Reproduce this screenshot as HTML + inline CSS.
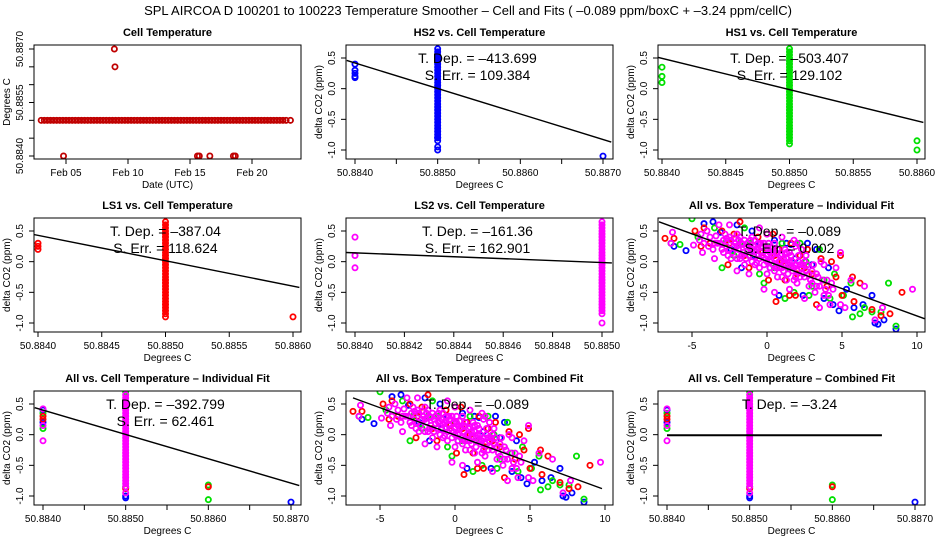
<!DOCTYPE html>
<html><head><meta charset="utf-8"><style>
html,body{margin:0;padding:0;background:#fff}
svg{display:block;font-family:"Liberation Sans",sans-serif}
</style></head><body>
<svg id="chart" width="936" height="540" viewBox="0 0 936 540" xmlns="http://www.w3.org/2000/svg">
<text x="468" y="15" text-anchor="middle" font-size="13">SPL   AIRCOA D   100201 to 100223   Temperature Smoother – Cell and Fits ( –0.089  ppm/boxC +  –3.24  ppm/cellC)</text>
</svg>
<script>
// ---------- data ----------
const cellBaseDays = [3,3.25,3.5,3.75,4,4.25,4.5,4.75,5,5.25,5.5,5.75,6,6.25,6.5,6.75,7,7.25,7.5,7.75,8,8.25,8.5,8.75,9,9.25,9.5,9.75,10,10.25,10.5,10.75,11,11.25,11.5,11.75,12,12.25,12.5,12.75,13,13.25,13.5,13.75,14,14.25,14.5,14.75,15,15.25,15.5,15.75,16,16.25,16.5,16.75,17,17.25,17.5,17.75,18,18.25,18.5,18.75,19,19.25,19.5,19.75,20,20.25,20.5,20.75,21,21.25,21.5,21.75,22,22.25,22.5,22.75,23.1];
const cellBaseTemp = 50.885;
const cellOutlierDays = [4.8,8.9,8.95,15.6,15.75,16.6,18.5,18.65];
const cellOutlierTemps = [50.884,50.887,50.8865,50.884,50.884,50.884,50.884,50.884];

const columnY = [-0.85,-0.8,-0.75,-0.7,-0.65,-0.6,-0.55,-0.5,-0.45,-0.4,-0.35,-0.3,-0.25,-0.2,-0.15,-0.1,-0.05,0,0.05,0.1,0.15,0.2,0.25,0.3,0.35,0.4,0.45,0.5,0.55,0.6,0.65];

const hs2Points = [[50.884,0.4],[50.884,0.3],[50.884,0.25],[50.884,0.2],[50.884,0.18],[50.885,-0.95],[50.885,-1.0],[50.885,-0.8],[50.887,-1.1]];
const hs1Points = [[50.884,0.35],[50.884,0.2],[50.884,0.1],[50.885,-0.9],[50.886,-0.85],[50.886,-1.0]];
const ls1Points = [[50.884,0.3],[50.884,0.25],[50.884,0.2],[50.885,-0.9],[50.886,-0.9]];
const ls2Points = [[50.884,0.4],[50.884,0.1],[50.884,-0.1],[50.885,-1.0]];

const allCellMagenta = [[50.884,0.42],[50.884,0.15],[50.884,-0.1],[50.885,-0.95]];
const allCellGreen = [[50.884,0.35],[50.884,0.1],[50.885,0.7],[50.885,-0.85],[50.886,-0.82],[50.886,-1.06]];
const allCellRed = [[50.884,0.3],[50.884,0.25],[50.885,-0.88],[50.886,-0.85]];
const allCellBlue = [[50.884,0.4],[50.884,0.2],[50.885,-1.0],[50.885,-1.03],[50.887,-1.1]];

const boxMagenta = [[-6.3,0.48],[-6.4,0.3],[-4.9,0.27],[-4.5,0.35],[-4.3,0.15],[-4,0.5],[-3.8,0.4],[-3.5,0.3],[-3.2,0.6],[-3,0.2],[-2.8,0.45],[-2.6,0.1],[-2.4,0.35],[-2.2,0.25],[-2,0.05],[-1.8,0.4],[-1.6,0.15],[-1.5,-0.05],[-1.3,0.3],[-1.1,0.2],[-1,0],[-0.8,0.35],[-0.6,0.1],[-0.5,-0.1],[-0.3,0.25],[-0.1,0.05],[0,-0.2],[0.2,0.15],[0.4,-0.05],[0.5,0.3],[0.7,-0.25],[0.9,0.1],[1,-0.1],[1.2,0.2],[1.3,-0.3],[1.5,0],[1.7,-0.15],[1.9,0.25],[2,-0.35],[2.2,-0.05],[2.4,-0.2],[2.6,0.1],[2.8,-0.4],[3,-0.15],[3.2,-0.5],[3.4,-0.25],[3.6,0],[3.8,-0.55],[4,-0.3],[4.2,-0.7],[4.4,-0.45],[4.6,-0.1],[4.9,0.15],[4.9,-0.7],[5.2,-0.75],[5.6,-0.3],[6.5,-0.4],[7.2,-0.95],[7.7,-0.75],[9.7,-0.45],[1.8,0.35],[-0.5,0.55],[-2.5,0.6],[0.5,-0.5],[1.5,-0.45],[-1.2,-0.2],[2.5,-0.6],[3.5,-0.75],[-3.5,0.05],[0,0.45],[1,0.4],[2,0.3],[-2,-0.15],[-0.2,-0.45],[2.3,0.2],[3.8,-0.05],[-2.9,0.35],[-2.7,0.25],[-2.5,0.4],[-2.3,0.15],[-2.1,0.3],[-1.9,0.2],[-1.7,0.3],[-1.4,0.25],[-1.2,0.1],[-0.9,0.25],[-0.7,0.2],[-0.4,0.15],[-0.2,0.3],[0.1,0.2],[0.3,0.1],[0.6,0.15],[0.8,0],[1.1,0.05],[1.4,-0.05],[1.6,0.1],[1.8,-0.1],[2.1,0],[2.3,-0.1],[2.5,-0.25],[2.7,-0.05],[-1.5,0.35],[-0.6,0.3],[0.2,-0.1],[1,-0.25],[1.9,-0.25],[-3.3,0.3],[-2,0.45],[-1,0.4],[0,0],[0.6,-0.1],[1.3,0.15],[2.9,-0.3],[3.3,-0.4],[-0.8,-0.05],[-1.8,0.05],
[-3.6,0.2],[-3.4,0.42],[-3.1,0.3],[-2.9,0.15],[-2.7,0.38],[-2.5,0.2],[-2.4,0.05],[-2.2,0.38],[-2.0,0.25],[-1.9,0.35],[-1.7,0.1],[-1.6,0.28],[-1.4,0.05],[-1.3,0.18],[-1.1,0.35],[-1.0,0.22],[-0.9,0.08],[-0.8,0.18],[-0.7,-0.02],[-0.6,0.22],[-0.5,0.05],[-0.4,0.3],[-0.3,0.1],[-0.2,-0.05],[-0.1,0.2],[0,0.1],[0.1,0.3],[0.2,0.0],[0.3,0.22],[0.4,0.12],[0.5,-0.15],[0.6,0.05],[0.7,0.2],[0.8,-0.1],[0.9,0.0],[1.0,0.12],[1.1,-0.15],[1.2,-0.05],[1.3,0.05],[1.4,-0.2],[1.5,0.15],[1.6,-0.1],[1.7,0.0],[1.8,-0.3],[1.9,-0.05],[2.0,-0.15],[2.1,0.1],[2.2,-0.25],[2.4,-0.05],[2.5,0.0],[2.6,-0.15],[2.8,-0.2],[3.0,-0.35],[3.1,-0.05],[3.3,-0.2],[3.5,-0.4],[3.7,-0.3],[3.9,-0.45],[4.1,-0.55],[4.3,-0.35],[-4.2,0.3],[-3.9,0.25],[-4.4,0.45]];
const boxRed = [[-6.8,0.38],[-6.2,0.38],[-4.8,0.5],[-4.4,0.25],[-4.2,0.55],[-3.8,0.3],[-3,0.5],[-2.6,-0.05],[-2.2,0.45],[-1.8,0.65],[-1.2,-0.1],[-0.6,0.4],[0,0.45],[0.4,0.45],[0.6,-0.65],[0.8,0.2],[1.2,-0.3],[1.6,0.3],[1.9,-0.55],[2.2,0.1],[2.5,-0.1],[3,-0.2],[3.3,-0.7],[3.6,0.05],[4,-0.4],[4.3,0],[4.6,-0.25],[4.9,0.1],[5,-0.55],[5.7,-0.25],[5.8,-0.65],[6.2,-0.35],[7,-0.78],[7.6,-0.88],[8.2,-0.85],[9,-0.5],[1.5,-0.55],[-1.5,0.1],[2.7,0.2],[0.1,-0.3],[-0.3,0.15],[1.0,0.0],[2.0,-0.2],[-2.5,0.3],[0.5,0.1]];
const boxGreen = [[-5,0.7],[-5.8,0.28],[-6.4,0.3],[-4.6,0.4],[-3.5,0.55],[-2.8,0.3],[-2.2,0.1],[-1.5,0.55],[-1.1,0.3],[-0.5,-0.2],[0,0.2],[0.5,-0.1],[1,0.3],[1.4,-0.1],[1.8,-0.5],[2.2,0.3],[2.6,0],[3,-0.4],[3.5,0.2],[3.8,-0.3],[4.2,-0.6],[4.5,-0.2],[5.1,-0.55],[5.6,-0.35],[5.7,-0.9],[6.2,-0.85],[6.5,-0.75],[7,-0.82],[7.6,-0.82],[8.1,-0.35],[8.6,-1.05],[-3,-0.1],[1.2,-0.6],[2.8,-0.55],[-0.2,-0.35],[-1.8,0.3],[0.8,0.2]];
const boxBlue = [[-6.2,0.25],[-5.4,0.18],[-4.2,0.62],[-3.6,0.65],[-3.1,0.48],[-2.4,0.2],[-1.7,-0.1],[-1,0.5],[-0.5,0.3],[0.2,-0.1],[0.8,-0.55],[1.3,0.3],[1.9,0.05],[2.4,-0.55],[2.7,0.3],[3.3,0.2],[3.8,-0.6],[4.1,-0.1],[4.4,-0.7],[4.8,-0.8],[5.3,-0.45],[5.8,-0.75],[6.4,-0.7],[7,-0.55],[7.2,-1],[7.4,-1.02],[7.8,-0.95],[8.6,-1.1],[-2,0.6],[0.5,0.35],[3,-0.05],[1.6,0.28],[-0.9,0.1]];

const fitHS2 = [50.8839,0.46,50.8871,-0.87];
const fitHS1 = [50.88395,0.52,50.88605,-0.55];
const fitLS1 = [50.88395,0.45,50.88605,-0.42];
const fitLS2 = [50.88396,0.15,50.88504,-0.02];
const fitBoxInd = [-7.2,0.65,10.5,-0.93];
const fitAllCellInd = [50.8839,0.44,50.8871,-0.83];
const fitBoxComb = [-6.8,0.6,9.8,-0.88];
const fitAllCellComb = [50.884,-0.01,50.8866,-0.01];

const co2Ticks = [-1.0,-0.5,0.0,0.5];
const co2TickLabels = ["-1.0","-0.5","0.0","0.5"];
const cellTicks3 = [50.884,50.8845,50.885,50.8855,50.886,50.8865,50.887];
const cellLabels3 = ["50.8840","","50.8850","","50.8860","","50.8870"];
const cellTicks2 = [50.884,50.8845,50.885,50.8855,50.886];
const cellLabels2 = ["50.8840","50.8845","50.8850","50.8855","50.8860"];
const cellTicks1 = [50.884,50.8842,50.8844,50.8846,50.8848,50.885];
const cellLabels1 = ["50.8840","50.8842","50.8844","50.8846","50.8848","50.8850"];
const boxTicks = [-5,0,5,10];
const boxLabels = ["-5","0","5","10"];
const dayTicks = [5,10,15,20];
const dayLabels = ["Feb 05","Feb 10","Feb 15","Feb 20"];
const tempTicks = [50.884,50.8845,50.885,50.8855,50.886,50.8865,50.887];
const tempLabels = ["50.8840","","","50.8855","","","50.8870"];

// ---------- drawing ----------
const NS = "http://www.w3.org/2000/svg";
const svg = document.getElementById('chart');
function mk(tag, attrs, parent){const e=document.createElementNS(NS,tag);for(const k in attrs)e.setAttribute(k,attrs[k]);(parent||svg).appendChild(e);return e;}
function lin(d0,p0,d1,p1){return v=>p0+(v-d0)*(p1-p0)/(d1-d0);}

function panel(o){
  const cx=o.col*312, top=20+o.row*173+25, bot=top+114, L=cx+34, R=cx+301;
  const g=mk('g',{});
  
  
  const X=lin(o.xr[0],cx+o.xr[1],o.xr[2],cx+o.xr[3]);
  const Y=o.yr?lin(o.yr[0],top+o.yr[1],o.yr[2],top+o.yr[3]):lin(0.5,top+13,-1.0,top+105);
  const t=mk('text',{x:(L+R)/2,y:top-9,'text-anchor':'middle','font-size':'11','font-weight':'bold'},g);t.textContent=o.title;
  
  
  const cp='clip'+o.col+o.row;
  const c=mk('clipPath',{id:cp},g);mk('rect',{x:L,y:top,width:R-L,height:bot-top},c);
  const pg=mk('g',{'clip-path':'url(#'+cp+')'},g);
  function pt(x,y,col){const p=mk('circle',{cx:X(x),cy:Y(y),r:2.6,fill:'none',stroke:col,'stroke-width':1.8},pg);
    
    }
  (o.series||[]).forEach(s=>{s.pts.forEach(p=>pt(p[0],p[1],s.color));
    if(s.col){s.col.forEach(y=>pt(s.colX,y,s.color));
      const band=mk('rect',{x:X(s.colX)-3,y:Y(s.col[s.col.length-1]),width:6,height:Y(s.col[0])-Y(s.col[s.col.length-1]),fill:s.color},pg);
      
      }});
  if(o.fit){const f=o.fit;const ln=mk('line',{x1:X(f[0]),y1:Y(f[1]),x2:X(f[2]),y2:Y(f[3]),stroke:'#000','stroke-width':1.4},pg);
    
    }
  if(o.thickFit){const f=o.thickFit;const ln=mk('line',{x1:X(f[0]),y1:Y(f[1]),x2:X(f[2]),y2:Y(f[3]),stroke:'#000','stroke-width':2},pg);
    
    }
  mk('rect',{x:L,y:top,width:R-L,height:bot-top,fill:'none',stroke:'#000','stroke-width':1},g);
  o.xt.forEach((v,i)=>{const x=X(v);mk('line',{x1:x,y1:bot,x2:x,y2:bot+5,stroke:'#000'},g);
    if(o.xl[i]){const tx=mk('text',{x:x,y:bot+17,'text-anchor':'middle','font-size':'10'},g);tx.textContent=o.xl[i];
      
      }});
  const xt=mk('text',{x:(L+R)/2,y:bot+29,'text-anchor':'middle','font-size':'10'},g);xt.textContent=o.xtitle;
  
  
  o.yt.forEach((v,i)=>{const y=Y(v);mk('line',{x1:L,y1:y,x2:L-5,y2:y,stroke:'#000'},g);
    if(o.yl[i]){const tx=mk('text',{x:cx+23,y:y,'text-anchor':'middle','font-size':'10',transform:'rotate(-90 '+(cx+23)+' '+y+')'},g);tx.textContent=o.yl[i];
      
      }});
  const ym=(top+bot)/2;
  const yt=mk('text',{x:cx+10,y:ym,'text-anchor':'middle','font-size':'10',transform:'rotate(-90 '+(cx+10)+' '+ym+')'},g);yt.textContent=o.ytitle;
  
  
  (o.ann||[]).forEach((s,i)=>{const a=mk('text',{x:(L+R)/2-2,y:top+18+i*17,'text-anchor':'middle','font-size':'14'},g);a.textContent=s;
    
    });
}

const CO2='delta CO2 (ppm)', DC='Degrees C';
const X3=[50.884,43,50.887,291], X2=[50.884,38,50.886,293], X1=[50.884,43,50.885,290], XB=[-5,68,10,293];

panel({name:'cell-temperature-panel',col:0,row:0,title:'Cell Temperature',xr:[5,66,20,252],yr:[50.887,4,50.884,111],
  series:[{color:'#c00000',pts:cellBaseDays.map(d=>[d,cellBaseTemp]).concat(cellOutlierDays.map((d,i)=>[d,cellOutlierTemps[i]]))}],
  xt:dayTicks,xl:dayLabels,yt:tempTicks,yl:tempLabels,xtitle:'Date (UTC)',ytitle:'Degrees C'});
panel({name:'hs2-panel',col:1,row:0,title:'HS2 vs. Cell Temperature',xr:X3,series:[{color:'#0000ff',pts:hs2Points,col:columnY,colX:50.885}],
  fit:fitHS2,xt:cellTicks3,xl:cellLabels3,yt:co2Ticks,yl:co2TickLabels,xtitle:DC,ytitle:CO2,ann:['T. Dep. =  –413.699','S. Err. =  109.384']});
panel({name:'hs1-panel',col:2,row:0,title:'HS1 vs. Cell Temperature',xr:X2,series:[{color:'#00e000',pts:hs1Points,col:columnY,colX:50.885}],
  fit:fitHS1,xt:cellTicks2,xl:cellLabels2,yt:co2Ticks,yl:co2TickLabels,xtitle:DC,ytitle:CO2,ann:['T. Dep. =  –503.407','S. Err. =  129.102']});
panel({name:'ls1-panel',col:0,row:1,title:'LS1 vs. Cell Temperature',xr:X2,series:[{color:'#ff0000',pts:ls1Points,col:columnY,colX:50.885}],
  fit:fitLS1,xt:cellTicks2,xl:cellLabels2,yt:co2Ticks,yl:co2TickLabels,xtitle:DC,ytitle:CO2,ann:['T. Dep. =  –387.04','S. Err. =  118.624']});
panel({name:'ls2-panel',col:1,row:1,title:'LS2 vs. Cell Temperature',xr:X1,series:[{color:'#ff00ff',pts:ls2Points,col:columnY,colX:50.885}],
  fit:fitLS2,xt:cellTicks1,xl:cellLabels1,yt:co2Ticks,yl:co2TickLabels,xtitle:DC,ytitle:CO2,ann:['T. Dep. =  –161.36','S. Err. =  162.901']});
panel({name:'all-box-individual-panel',col:2,row:1,title:'All vs. Box Temperature – Individual Fit',xr:XB,
  series:[{color:'#0000ff',pts:boxBlue},{color:'#00e000',pts:boxGreen},{color:'#ff0000',pts:boxRed},{color:'#ff00ff',pts:boxMagenta}],
  fit:fitBoxInd,xt:boxTicks,xl:boxLabels,yt:co2Ticks,yl:co2TickLabels,xtitle:DC,ytitle:CO2,ann:['T. Dep. =  –0.089','S. Err. =  0.002']});
panel({name:'all-cell-individual-panel',col:0,row:2,title:'All vs. Cell Temperature – Individual Fit',xr:X3,
  series:[{color:'#0000ff',pts:allCellBlue},{color:'#00e000',pts:allCellGreen},{color:'#ff0000',pts:allCellRed},{color:'#ff00ff',pts:allCellMagenta,col:columnY,colX:50.885}],
  fit:fitAllCellInd,xt:cellTicks3,xl:cellLabels3,yt:co2Ticks,yl:co2TickLabels,xtitle:DC,ytitle:CO2,ann:['T. Dep. =  –392.799','S. Err. =  62.461']});
panel({name:'all-box-combined-panel',col:1,row:2,title:'All vs. Box Temperature – Combined Fit',xr:XB,
  series:[{color:'#0000ff',pts:boxBlue},{color:'#00e000',pts:boxGreen},{color:'#ff0000',pts:boxRed},{color:'#ff00ff',pts:boxMagenta}],
  fit:fitBoxComb,xt:boxTicks,xl:boxLabels,yt:co2Ticks,yl:co2TickLabels,xtitle:DC,ytitle:CO2,ann:['T. Dep. =  –0.089']});
panel({name:'all-cell-combined-panel',col:2,row:2,title:'All vs. Cell Temperature – Combined Fit',xr:X3,
  series:[{color:'#0000ff',pts:allCellBlue},{color:'#00e000',pts:allCellGreen},{color:'#ff0000',pts:allCellRed},{color:'#ff00ff',pts:allCellMagenta,col:columnY,colX:50.885}],
  thickFit:fitAllCellComb,xt:cellTicks3,xl:cellLabels3,yt:co2Ticks,yl:co2TickLabels,xtitle:DC,ytitle:CO2,ann:['T. Dep. =  –3.24']});
</script>
</body></html>
